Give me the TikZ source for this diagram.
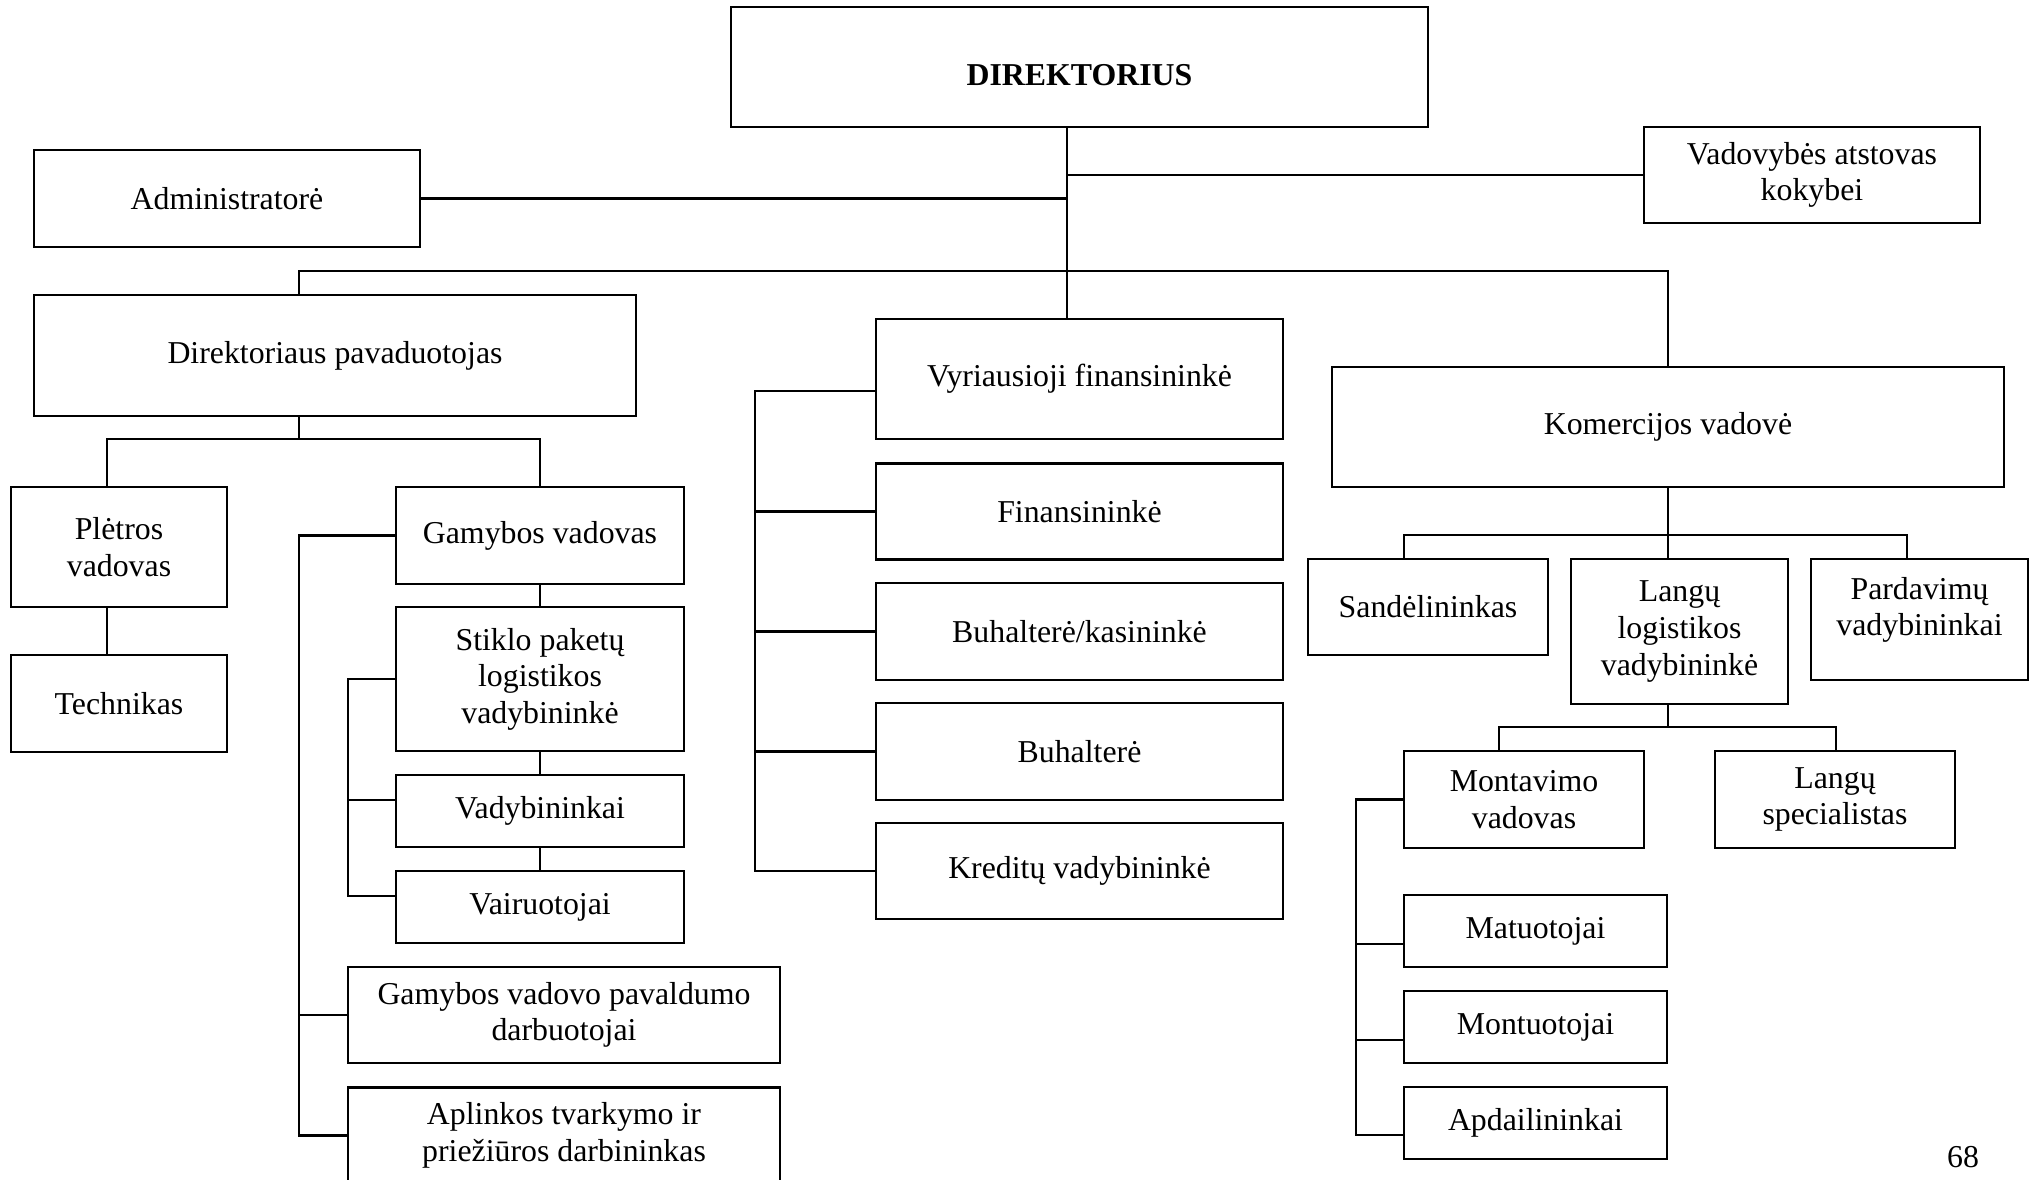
\documentclass[tikz,border=0pt]{standalone}
\usepackage{fontspec}
\setmainfont{Liberation Serif}
\begin{document}
\begin{tikzpicture}[x=0.01cm,y=-0.01cm,
  box/.style={draw, line width=0.6pt, inner sep=1pt, align=center,
    font=\fontsize{9.05}{10.4}\selectfont},
  conn/.style={line width=0.6pt},
  pagenum/.style={inner sep=0pt, font=\fontsize{9.05}{10.4}\selectfont}]
\useasboundingbox (0,0) rectangle (2038,1180);

% top level
\node[box, minimum width=6.97cm, minimum height=1.20cm] (dir) at (1079.5,67) {\raisebox{-0.08cm}[\height][\depth]{\textbf{DIREKTORIUS}}};
\node[box, minimum width=3.855cm, minimum height=0.97cm] (adm) at (227,198.5) {Administratorė};
\node[box, minimum width=3.36cm, minimum height=0.965cm] (vad) at (1812,175) {Vadovybės atstovas\\kokybei};
\node[box, minimum width=6.015cm, minimum height=1.21cm] (pav) at (335,355.5) {Direktoriaus pavaduotojas};
\node[box, minimum width=4.07cm, minimum height=1.20cm] (vyr) at (1079.5,379) {Vyriausioji finansininkė};
\node[box, minimum width=6.72cm, minimum height=1.20cm] (kom) at (1668,427) {Komercijos vadovė};

% deputy branch
\node[box, minimum width=2.16cm, minimum height=1.20cm] (ple) at (119,547) {Plėtros\\vadovas};
\node[box, minimum width=2.16cm, minimum height=0.97cm] (tech) at (119,703.5) {Technikas};
\node[box, minimum width=2.88cm, minimum height=0.97cm] (gam) at (540,535.5) {Gamybos vadovas};
\node[box, minimum width=2.88cm, minimum height=1.445cm] (stik) at (540,679) {Stiklo paketų\\logistikos\\vadybininkė};
\node[box, minimum width=2.88cm, minimum height=0.725cm] (vadyb) at (540,811) {Vadybininkai};
\node[box, minimum width=2.88cm, minimum height=0.726cm] (vair) at (540,907) {Vairuotojai};
\node[box, minimum width=4.325cm, minimum height=0.96cm] (pavald) at (564,1015) {Gamybos vadovo pavaldumo\\darbuotojai};
\node[box, minimum width=4.325cm, minimum height=0.96cm] (apl) at (564,1135.5) {Aplinkos tvarkymo ir\\priežiūros darbininkas};

% finance branch
\node[box, minimum width=4.07cm, minimum height=0.96cm] (fin) at (1079.5,511.5) {Finansininkė};
\node[box, minimum width=4.07cm, minimum height=0.97cm] (buhk) at (1079.5,631.5) {Buhalterė/kasininkė};
\node[box, minimum width=4.07cm, minimum height=0.97cm] (buh) at (1079.5,751.5) {Buhalterė};
\node[box, minimum width=4.07cm, minimum height=0.96cm] (kred) at (1079.5,871) {Kreditų vadybininkė};

% commerce branch
\node[box, minimum width=2.40cm, minimum height=0.96cm] (sand) at (1428,607) {Sandėlininkas};
\node[box, minimum width=2.17cm, minimum height=1.45cm] (lanlog) at (1679.5,631.5) {Langų\\logistikos\\vadybininkė};
\node[box, minimum width=2.17cm, minimum height=1.21cm] (pard) at (1919.5,619.5) {Pardavimų\\vadybininkai\\[-3pt]\mbox{}};
\node[box, minimum width=2.40cm, minimum height=0.97cm] (mont) at (1524,799.5) {Montavimo\\vadovas};
\node[box, minimum width=2.405cm, minimum height=0.97cm] (lspec) at (1835,799.5) {Langų\\specialistas};
\node[box, minimum width=2.63cm, minimum height=0.72cm] (mat) at (1535.5,931) {Matuotojai};
\node[box, minimum width=2.63cm, minimum height=0.72cm] (montu) at (1535.5,1027) {Montuotojai};
\node[box, minimum width=2.63cm, minimum height=0.72cm] (apd) at (1535.5,1123) {Apdailininkai};

\node[pagenum] (pg) at (1963,1157) {68};

% helper coordinates
\coordinate (tx) at (1067,0);
\coordinate (pd) at (299,271);
\coordinate (pb) at (107,439);
\coordinate (ob) at (299,0);
\coordinate (ib) at (348,0);
\coordinate (fb) at (755,0);
\coordinate (ks) at (1404,535);
\coordinate (kp) at (1907,535);
\coordinate (lm) at (1499,727);
\coordinate (lsp) at (1836,727);
\coordinate (mb) at (1356,0);
\coordinate (vadybc) at ([yshift=0.11cm]vadyb.west);
\coordinate (vairc) at ([yshift=0.11cm]vair.west);
\coordinate (vyrc) at ([yshift=-0.12cm]vyr.west);
\coordinate (matc) at ([yshift=-0.13cm]mat.west);
\coordinate (montuc) at ([yshift=-0.13cm]montu.west);
\coordinate (apdc) at ([yshift=-0.12cm]apd.west);

% director connections
\draw[conn] (dir.south -| tx) -- (vyr.north -| tx);
\draw[conn] (vad.west) -- (vad.west -| tx);
\draw[conn] (adm.east) -- (adm.east -| tx);
\draw[conn] (pav.north -| pd) -- (pd) -| (kom.north);

% deputy
\draw[conn] (pav.south -| pd) -- (pd |- pb);
\draw[conn] (ple.north -| pb) -- (pb) -| (gam.north);
\draw[conn] (ple.south -| pb) -- (tech.north -| pb);

% production manager
\draw[conn] (gam.west) -| (ob |- apl.west) -- (apl.west);
\draw[conn] (pavald.west) -- (pavald.west -| ob);
\draw[conn] (gam.south) -- (stik.north);
\draw[conn] (stik.south) -- (vadyb.north);
\draw[conn] (vadyb.south) -- (vair.north);
\draw[conn] (stik.west) -| (ib |- vairc) -- (vairc);
\draw[conn] (vadybc) -- (vadybc -| ib);

% finance
\draw[conn] (vyrc) -| (fb |- kred.west) -- (kred.west);
\draw[conn] (fin.west) -- (fin.west -| fb);
\draw[conn] (buhk.west) -- (buhk.west -| fb);
\draw[conn] (buh.west) -- (buh.west -| fb);

% commerce
\draw[conn] (kom.south) -- (kom.south |- lanlog.north);
\draw[conn] (sand.north -| ks) -- (ks) -- (kp) -- (pard.north -| kp);
\draw[conn] (lanlog.south -| kom.south) -- (kom.south |- lm);
\draw[conn] (mont.north -| lm) -- (lm) -- (lsp) -- (lspec.north -| lsp);
\draw[conn] (mont.west) -| (mb |- apdc) -- (apdc);
\draw[conn] (matc) -- (matc -| mb);
\draw[conn] (montuc) -- (montuc -| mb);
\end{tikzpicture}
\end{document}
